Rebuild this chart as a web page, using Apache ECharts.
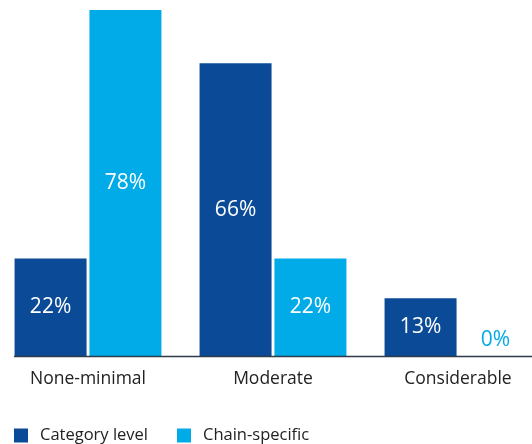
<!DOCTYPE html>
<html>
<head>
<meta charset="utf-8">
<script src="https://cdn.jsdelivr.net/npm/echarts@6/dist/echarts.min.js"></script>
<style>
html,body{margin:0;padding:0;background:#fff;}
#c{width:532px;height:444px;}
</style>
</head>
<body>
<div id="c"></div>
<script>
const categories = ['None-minimal', 'Moderate', 'Considerable'];
const categoryLevel = [22, 66, 13];
const chainSpecific = [78, 22, 0];
const seriesNames = ['Category level', 'Chain-specific'];

const DARK = '#0a4a96';
const LIGHT = '#00abe7';
const FONT = '"Open Sans", "Noto Sans", sans-serif';

const chart = echarts.init(document.getElementById('c'), null, {renderer: 'canvas'});
chart.setOption({
  animation: false,
  textStyle: {fontFamily: FONT},
  grid: {left: -4.5, width: 555, top: 10, height: 346, containLabel: false, outerBoundsMode: 'none'},
  xAxis: {
    type: 'category',
    data: categories,
    axisLine: {show: false},
    axisTick: {show: false},
    axisLabel: {color: '#222', fontSize: 17.5, fontFamily: FONT, margin: 14}
  },
  yAxis: {type: 'value', min: 0, max: 78, show: false, splitLine: {show: false}},
  legend: {
    left: 14, top: 427, padding: 0,
    itemWidth: 14, itemHeight: 14, itemGap: 29,
    icon: 'rect',
    textStyle: {color: '#222', fontSize: 16.5, fontFamily: FONT, padding: [0, 0, 0, 7]},
    data: seriesNames
  },
  series: [
    {
      name: seriesNames[0], type: 'bar', data: categoryLevel,
      barWidth: 72, barGap: '4%',
      itemStyle: {color: DARK},
      label: {show: true, position: 'inside', formatter: '{c}%', color: '#fff', fontSize: 21, fontFamily: FONT}
    },
    {
      name: seriesNames[1], type: 'bar',
      data: chainSpecific.map(v => v === 0
        ? {value: v, label: {position: 'top', color: LIGHT, distance: 5}}
        : v),
      barWidth: 72,
      itemStyle: {color: LIGHT},
      label: {show: true, position: 'inside', formatter: '{c}%', color: '#fff', fontSize: 21, fontFamily: FONT}
    }
  ]
});

// baseline line
const y0 = chart.convertToPixel({yAxisIndex: 0}, 0);
chart.setOption({
  graphic: [{
    type: 'line', shape: {x1: 14, y1: Math.round(y0) + 0.5, x2: 532, y2: Math.round(y0) + 0.5},
    style: {stroke: '#2e3b48', lineWidth: 1.5}, z: 10
  }]
});
</script>
</body>
</html>
